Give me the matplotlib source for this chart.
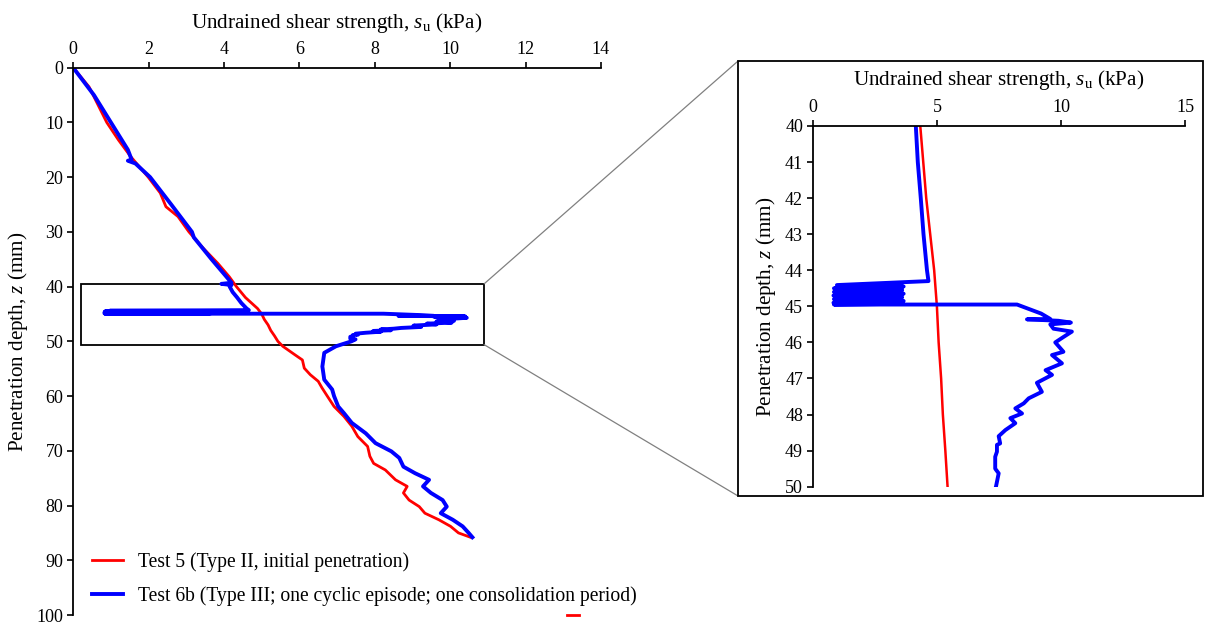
import matplotlib
matplotlib.use("Agg")
import matplotlib.pyplot as plt
from matplotlib.patches import Rectangle, ConnectionPatch

plt.rcParams['font.family'] = ['Liberation Serif', 'DejaVu Serif']
plt.rcParams['mathtext.fontset'] = 'custom'
plt.rcParams['mathtext.rm'] = 'Liberation Serif'
plt.rcParams['mathtext.it'] = 'Liberation Serif:italic'

# Test 5 (red) - depth in mm, su in kPa
red_depth = [0, 3.5, 7.1, 10, 13.2, 16.2, 20, 22.9, 25.4, 27.2, 30, 32.7, 35.7, 38.2, 40,
             41, 42, 43, 44, 45, 46, 47, 48, 49, 50, 50.9, 52.4, 53.4, 54.9, 56.1, 57.3,
             58.5, 60, 61.9, 63.7, 65.5, 67.4, 69.2, 71, 72.3, 73.5, 75.3, 76.5, 77.7, 79,
             80.2, 81.4, 82.6, 83.8, 85, 85.8]
red_su = [0, 0.42, 0.68, 0.89, 1.2, 1.52, 1.99, 2.31, 2.46, 2.78, 3.07, 3.41, 3.83, 4.14, 4.33,
          4.45, 4.57, 4.73, 4.89, 5.0, 5.07, 5.17, 5.24, 5.34, 5.43, 5.56, 5.87, 6.08, 6.13, 6.29, 6.5,
          6.6, 6.74, 6.92, 7.18, 7.39, 7.55, 7.81, 7.87, 7.97, 8.28, 8.55, 8.86, 8.76, 8.91,
          9.18, 9.33, 9.7, 10.01, 10.22, 10.54]

# Test 6b (blue)
blue_depth = [0, 5, 10, 15, 16.8, 17, 17.5, 20, 25, 30, 31, 35, 38, 39.3, 39.5, 39.7, 40,
              41, 42, 43, 44, 44.3, 44.41, 44.45, 44.5, 44.55, 44.6, 44.65, 44.7, 44.75, 44.8,
              44.85, 44.9, 44.93, 44.95, 44.95, 45.2, 45.35, 45.36, 45.4, 45.45, 45.5, 45.62,
              45.7, 45.85, 46.0, 46.26, 46.35, 46.58, 46.77, 46.9, 47.12, 47.37, 47.55, 47.69,
              47.83, 47.97, 48.1, 48.24, 48.43, 48.6, 48.8, 48.84, 49.03, 49.17, 49.5, 49.63,
              50, 50.9, 52.1, 54.6, 57, 58.8, 60, 61.9, 63.1, 64.9, 66.8, 68.6, 70.1, 71.3,
              72.9, 74.1, 75.3, 76.5, 77.7, 79, 80.2, 81.4, 82.6, 83.8, 85, 85.8]
blue_su = [0, 0.55, 1.0, 1.45, 1.55, 1.45, 1.65, 2.04, 2.6, 3.15, 3.2, 3.67, 4.04, 4.2, 3.93, 4.2, 4.15,
           4.23, 4.35, 4.46, 4.6, 4.66, 0.97, 3.66, 0.85, 3.6, 0.85, 3.66, 0.83, 3.6, 0.85,
           3.66, 0.83, 3.6, 0.85, 8.23, 9.2, 9.57, 8.63, 9.9, 10.4, 9.57, 9.7,
           10.44, 10.1, 9.77, 10.1, 9.64, 10.04, 9.38, 9.64, 9.03, 9.23, 8.7, 8.5,
           8.16, 8.43, 7.96, 8.16, 7.76, 7.49, 7.55, 7.42, 7.42, 7.35, 7.35, 7.49,
           7.38, 6.97, 6.66, 6.61, 6.66, 6.87, 6.92, 7.03, 7.18, 7.39, 7.76, 8.02, 8.44, 8.65,
           8.76, 9.07, 9.44, 9.28, 9.49, 9.8, 9.91, 9.75, 10.07, 10.33, 10.49, 10.59]

# small red dash at the bottom edge of the main plot
stray_su = [13.1, 13.42]
stray_depth = [100, 100]

label_red = 'Test 5 (Type II, initial penetration)'
label_blue = 'Test 6b (Type III; one cyclic episode; one consolidation period)'
xlabel = r'Undrained shear strength, $s_\mathrm{u}$ (kPa)'
ylabel = r'Penetration depth, $z$ (mm)'

fig = plt.figure(figsize=(12.06, 6.25), dpi=100)


def style_axes(ax, xpad):
    ax.xaxis.tick_top()
    ax.xaxis.set_label_position('top')
    ax.spines['right'].set_visible(False)
    ax.spines['bottom'].set_visible(False)
    for s in ('top', 'left'):
        ax.spines[s].set_linewidth(1.3)
    ax.tick_params(direction='out', length=4, width=1.2, labelsize=13, pad=3)
    ax.set_xlabel(xlabel, fontsize=15.2, labelpad=xpad)
    ax.set_ylabel(ylabel, fontsize=15.2, labelpad=5)


# main plot
ax = fig.add_axes([0.0607, 0.016, 0.4376, 0.8757])
ax.plot(red_su, red_depth, color='#ff0000', lw=2.0, label=label_red)
ax.plot(blue_su, blue_depth, color='#0000ff', lw=2.8, label=label_blue)
ax.plot(stray_su, stray_depth, color='#ff0000', lw=2.0, clip_on=False)
ax.set_xlim(0, 14)
ax.set_ylim(100, 0)
ax.set_xticks(range(0, 15, 2))
ax.set_yticks(range(0, 101, 10))
style_axes(ax, 9.5)
ax.legend(loc='lower left', bbox_to_anchor=(0.021, 0.002), frameon=False, fontsize=14.1,
          handlelength=1.6, handletextpad=0.72, labelspacing=0.73, borderaxespad=0)

rect = Rectangle((0.2, 39.5), 10.7, 11.1, fill=False, edgecolor='black', lw=1.3)
ax.add_patch(rect)

# inset frame and axes
frame = Rectangle((0.612, 0.2064), 0.3855, 0.696, transform=fig.transFigure,
                  fill=False, edgecolor='black', lw=1.3)
fig.patches.append(frame)

axi = fig.add_axes([0.674, 0.2213, 0.3086, 0.5771])
axi.plot(red_su, red_depth, color='#ff0000', lw=1.8)
axi.plot(blue_su, blue_depth, color='#0000ff', lw=2.8)
axi.set_xlim(0, 15)
axi.set_ylim(50, 40)
axi.set_xticks([0, 5, 10, 15])
axi.set_yticks(range(40, 51))
style_axes(axi, 10)

# zoom connector lines
for yd, yf in ((39.5, 0.9024), (50.6, 0.2064)):
    con = ConnectionPatch(xyA=(10.9, yd), coordsA=ax.transData,
                          xyB=(0.612, yf), coordsB=fig.transFigure,
                          color='#808080', lw=0.9)
    fig.add_artist(con)

fig.savefig('out.png', dpi=100)
